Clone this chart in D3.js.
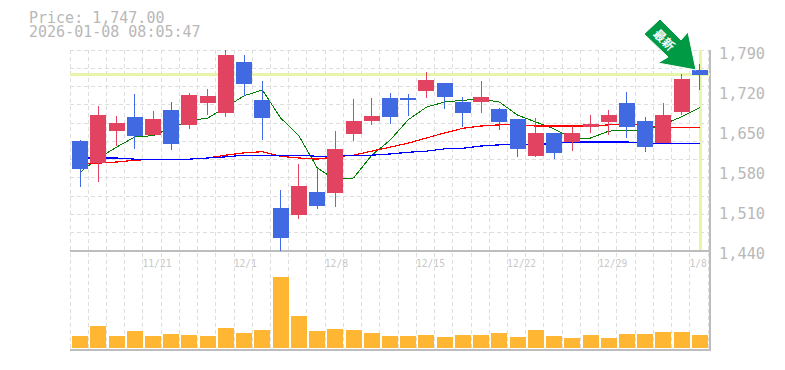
<!DOCTYPE html>
<html><head><meta charset="utf-8">
<style>html,body{margin:0;padding:0;background:#fff}svg{display:block}</style>
<script src="https://cdn.jsdelivr.net/npm/d3@7"></script></head>
<body><div id="c"></div>
<script>
const dates=["11/17","11/18","11/19","11/20","11/21","11/25","11/26","11/27","11/28","12/1","12/2","12/3","12/4","12/5","12/8","12/9","12/10","12/11","12/12","12/15","12/16","12/17","12/18","12/19","12/22","12/23","12/24","12/25","12/26","12/29","12/30","1/5","1/6","1/7","1/8"];
const dateTicks=["11/21","12/1","12/8","12/15","12/22","12/29","1/8"];
const priceTicks=[1790,1720,1650,1580,1510,1440];
const open=[1631,1592,1648,1672,1641,1685,1659,1697,1680,1769,1702,1513,1501,1541,1540,1643,1666,1706,1706,1718,1732,1699,1699,1687,1669,1604,1645,1629,1655,1664,1697,1666,1627,1681,1755];
const close=[1582,1676,1662,1639,1669,1625,1711,1709,1781,1730,1671,1461,1552,1517,1616,1666,1674,1673,1702,1737,1708,1680,1708,1664,1617,1645,1610,1645,1660,1676,1655,1620,1676,1739,1746];
const high=[1632,1692,1674,1713,1683,1699,1715,1722,1790,1781,1736,1545,1590,1583,1648,1704,1706,1715,1713,1751,1732,1708,1736,1688,1669,1671,1645,1657,1676,1685,1716,1673,1697,1748,1765];
const low=[1550,1559,1622,1617,1641,1615,1652,1676,1673,1709,1632,1438,1494,1512,1515,1631,1659,1660,1674,1706,1687,1655,1680,1650,1603,1603,1599,1613,1645,1641,1636,1611,1627,1676,1720];
const volume=[12,22,12,17,12,14,13,12,20,15,18,71,32,17,19,18,15,12,12,13,11,13,13,15,11,18,12,10,13,10,14,14,16,16,13];
const ma5=[1576,1601,1620,1638,1640,1654,1666,1671,1690,1710,1720,1671,1640,1584,1563,1566,1606,1632,1668,1690,1699,1702,1704,1699,1676,1664,1652,1636,1636,1648,1650,1650,1660,1673,1689];
const ma25=[1592,1592,1594,1597,1599,1599,1599,1601,1606,1610,1612,1604,1601,1599,1603,1606,1613,1620,1627,1636,1645,1653,1657,1659,1659,1657,1657,1657,1657,1659,1659,1659,1654,1654,1654];
const ma75=[1601,1601,1601,1599,1599,1599,1599,1601,1603,1606,1606,1606,1606,1604,1604,1606,1606,1608,1611,1613,1617,1618,1622,1624,1624,1624,1627,1629,1629,1629,1629,1627,1627,1627,1627];
const currentPrice=1747;
const arrowText="最新";

const W=785,H=370,L=70,R=710,gridR=708;
const svg=d3.select("#c").append("svg").attr("width",W).attr("height",H);
const x=d3.scaleBand().domain(dates).range([L,gridR]);
const y=d3.scaleLinear().domain([1440,1790]).range([250,50]);
const v=d3.scaleLinear().domain([0,100]).range([348,248]);
const cx=d=>x(d)+x.bandwidth()/2+1;
const GRID="#dedede",AX="#bdbdbd",TXT="#b8b8b8",MONO="'DejaVu Sans Mono',monospace";

// grid
const g=svg.append("g").attr("shape-rendering","crispEdges");
g.selectAll(".vg").data(dates.concat(["end"])).join("line")
 .attr("x1",(d,i)=>L+i*x.step()).attr("x2",(d,i)=>L+i*x.step())
 .attr("y1",50).attr("y2",350).attr("stroke",GRID).attr("stroke-dasharray","4 3");
const hStep=(251-50)/11;
g.selectAll(".hg").data(d3.range(11)).join("line")
 .attr("x1",L).attr("x2",R).attr("y1",d=>50+d*hStep).attr("y2",d=>50+d*hStep)
 .attr("stroke",GRID).attr("stroke-dasharray","4 3");

// axes frame
const f=svg.append("g").attr("shape-rendering","crispEdges").attr("stroke",AX).attr("stroke-width",1.5);
f.append("line").attr("x1",L).attr("x2",R).attr("y1",251).attr("y2",251);
f.append("line").attr("x1",L).attr("x2",R+.5).attr("y1",350).attr("y2",350);
f.append("line").attr("x1",R).attr("x2",R).attr("y1",50).attr("y2",350);

// price axis
const ya=svg.append("g").attr("opacity",.99).attr("transform",`translate(${719},0)`)
 .call(d3.axisRight(y).tickValues(priceTicks).tickSize(0).tickPadding(0).tickFormat(d3.format(",")));
ya.select(".domain").remove();
ya.selectAll("text").attr("font-family",MONO).attr("font-size",15.3).attr("fill",TXT).attr("dy","0.3em").attr("y",3.5);

// date axis
const xa=svg.append("g").attr("opacity",.99).attr("transform","translate(1,252)")
 .call(d3.axisBottom(x).tickValues(dateTicks).tickSize(0).tickPadding(0));
xa.select(".domain").remove();
xa.selectAll("text").attr("font-family",MONO).attr("font-size",11).attr("fill","#c8c8c8")
 .attr("text-anchor","start").attr("x",-10.5).attr("y",7)
 .attr("textLength",d=>d.length*5.8).attr("lengthAdjust","spacingAndGlyphs");

// current price guides
const hl="#e6f5a9";
svg.append("rect").attr("x",L).attr("width",R-L).attr("y",y(currentPrice)-1.5).attr("height",3).attr("fill",hl);
svg.append("rect").attr("x",cx(dates[34])-1).attr("width",3).attr("y",50).attr("height",200).attr("fill",hl);

// moving averages
const line=d3.line().x((d,i)=>cx(dates[i])).y(d=>y(d));
[[ma5,"#008000"],[ma25,"#ff0000"],[ma75,"#0000ff"]].forEach(([s,c])=>
 svg.append("path").attr("d",line(s)).attr("fill","none").attr("stroke",c).attr("stroke-width",c=="#008000"?1:1.2).attr("shape-rendering","crispEdges"));

// candles
const col=i=>close[i]>=open[i]?"#e14360":"#4169e1";
const cg=svg.append("g").attr("shape-rendering","crispEdges");
cg.selectAll(".w").data(dates).join("line")
 .attr("x1",d=>cx(d)).attr("x2",d=>cx(d))
 .attr("y1",(d,i)=>y(high[i])).attr("y2",(d,i)=>y(low[i]))
 .attr("stroke",(d,i)=>col(i));
cg.selectAll(".b").data(dates).join("rect")
 .attr("x",d=>cx(d)-8).attr("width",16)
 .attr("y",(d,i)=>y(Math.max(open[i],close[i])))
 .attr("height",(d,i)=>Math.abs(y(open[i])-y(close[i])))
 .attr("fill",(d,i)=>col(i));

// volume
svg.append("g").attr("shape-rendering","crispEdges").selectAll("rect").data(dates).join("rect")
 .attr("x",d=>cx(d)-8).attr("width",16)
 .attr("y",(d,i)=>v(volume[i])).attr("height",(d,i)=>v(0)-v(volume[i])).attr("fill","#ffb733");

// title
const t=svg.append("g").attr("opacity",.99).attr("font-family",MONO).attr("font-size",15).attr("fill",TXT);
t.append("text").attr("x",29).attr("y",23).text("Price: "+d3.format(",.2f")(currentPrice));
t.append("text").attr("x",29).attr("y",37).text("2026-01-08 08:05:47");

// arrow
svg.append("path").attr("d","M660,19L644,34L668,57L658,63L696,70L688,32L681,40Z").attr("fill","#009944").attr("stroke","#fff").attr("stroke-width",1);
svg.append("text").attr("opacity",.99).attr("transform","translate(664,40) rotate(45)").attr("text-anchor","middle").attr("dy","0.35em")
 .attr("font-family","'Noto Sans CJK JP'").attr("font-weight",700).attr("font-size",12).attr("fill","#fff").text(arrowText);
</script></body></html>
